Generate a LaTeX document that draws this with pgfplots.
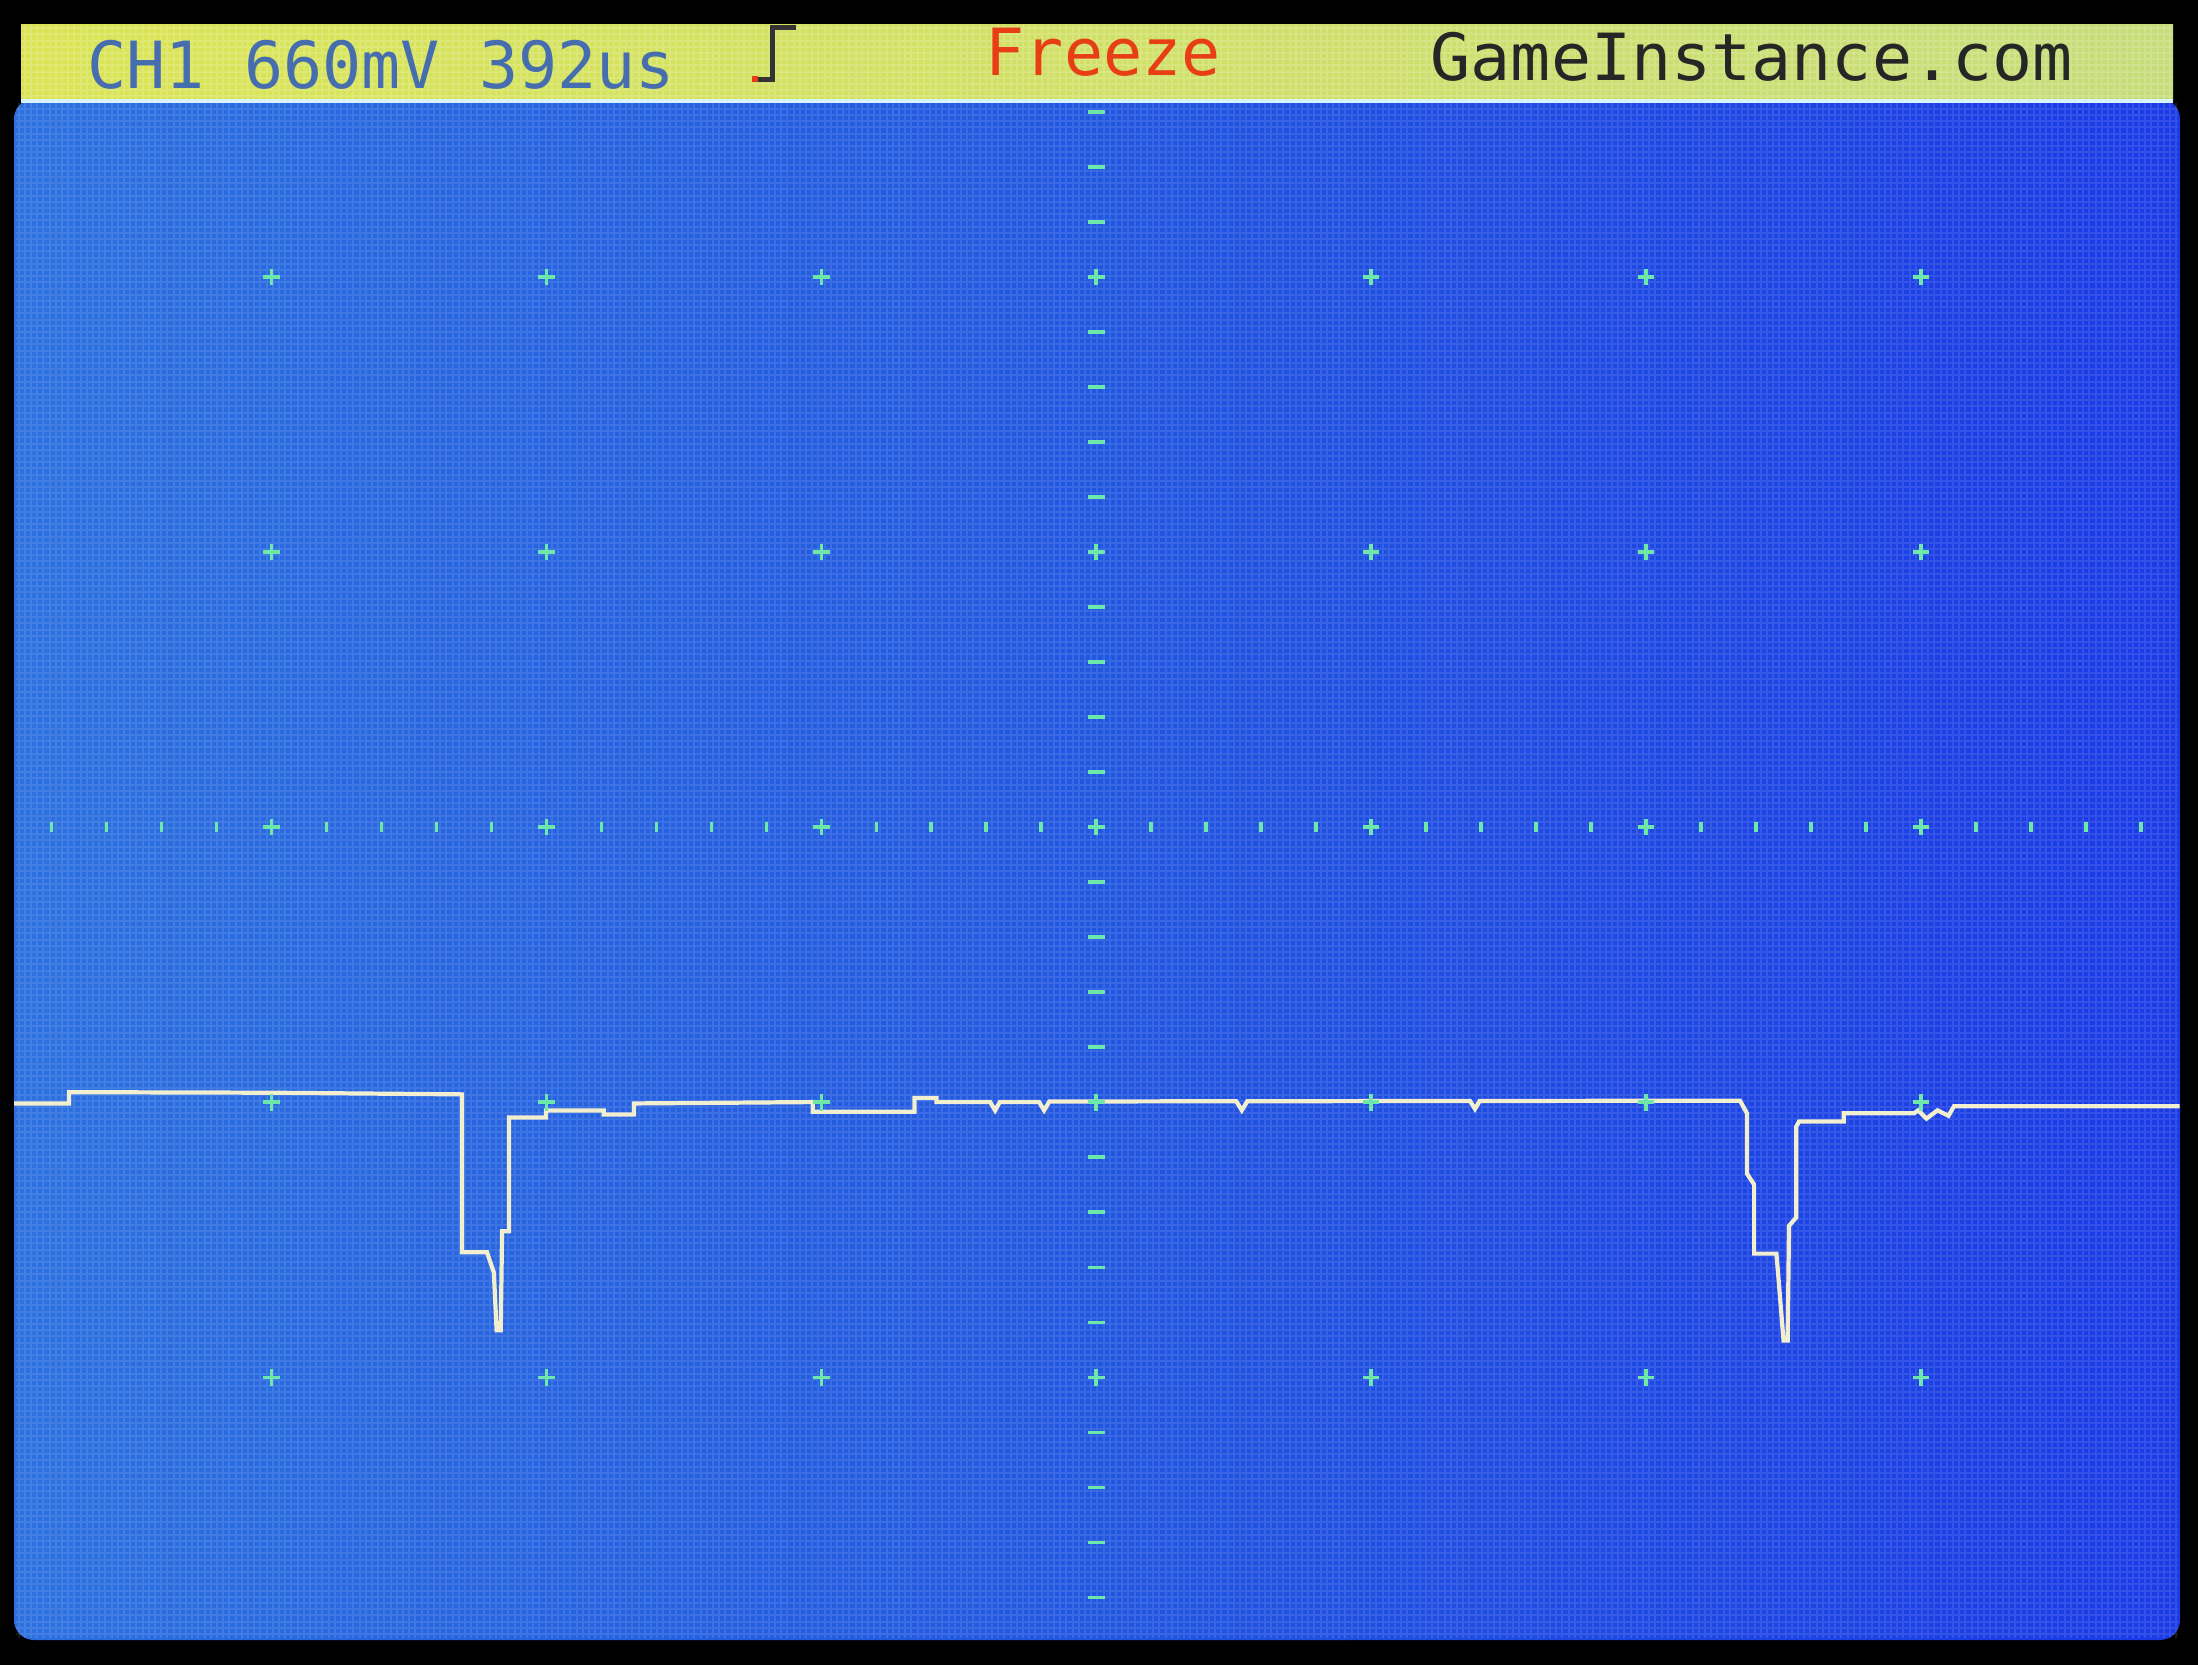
\documentclass[border=0pt]{standalone}
\usepackage{pgfplots}
\pgfplotsset{compat=1.18}
\usepackage{fontspec}
\newfontfamily\monofont{DejaVu Sans Mono}
\definecolor{scrL}{RGB}{44,112,224}
\definecolor{scrM}{RGB}{33,86,224}
\definecolor{scrR}{RGB}{26,58,230}
\definecolor{hdrL}{RGB}{218,228,82}
\definecolor{hdrR}{RGB}{198,220,120}
\definecolor{gridmk}{RGB}{110,232,170}
\definecolor{tracec}{RGB}{242,238,208}
\definecolor{chtxt}{RGB}{70,110,175}
\definecolor{frz}{RGB}{232,62,22}
\begin{document}
\begin{tikzpicture}
\fill[black] (0,0) rectangle (21.98,16.65);
% screen
\fill[left color=scrL, right color=scrR, middle color=scrM, rounded corners=0.2cm] (0.14,0.25) rectangle (21.80,15.66);
\draw[white, opacity=0.11, line width=0.02cm, step=0.062cm] (0.16,0.27) grid (21.78,15.62);
% header bar
\fill[left color=hdrL, right color=hdrR] (0.21,15.64) rectangle (21.73,16.40);
\draw[white, opacity=0.18, line width=0.02cm, step=0.062cm] (0.21,15.64) grid (21.73,16.40);
\draw[white!85!cyan, line width=0.04cm] (0.21,15.64) -- (21.73,15.64);
\node[anchor=base west, inner sep=0pt, text=chtxt, font=\monofont\fontsize{18.5}{20}\selectfont] at (0.87,15.76) {CH1 660mV 392us};
\node[anchor=base west, inner sep=0pt, text=frz, font=\monofont\fontsize{18.5}{20}\selectfont] at (9.85,15.89) {Freeze};
\node[anchor=base west, inner sep=0pt, text=black!85, font=\monofont\fontsize{18.5}{20}\selectfont, xscale=1.025] at (14.30,15.84) {GameInstance.com};
\draw[black!80, line width=0.05cm] (7.54,15.85) -- (7.72,15.85) -- (7.72,16.37) -- (7.96,16.37);
\fill[frz] (7.52,15.83) rectangle (7.58,15.89);
\begin{axis}[at={(0.14cm,0.25cm)}, anchor=south west, scale only axis,
  width=21.66cm, height=15.39cm,
  xmin=-3.935, xmax=3.942, ymin=-2.956, ymax=2.64,
  axis line style={draw=none}, xtick=\empty, ytick=\empty]
% major crosses
\addplot[only marks, mark=+, mark size=2.4pt, gridmk, mark options={line width=0.9pt}] coordinates {
(-3,2)(-2,2)(-1,2)(0,2)(1,2)(2,2)(3,2)
(-3,1)(-2,1)(-1,1)(0,1)(1,1)(2,1)(3,1)
(-3,0)(-2,0)(-1,0)(0,0)(1,0)(2,0)(3,0)
(-3,-1)(-2,-1)(-1,-1)(0,-1)(1,-1)(2,-1)(3,-1)
(-3,-2)(-2,-2)(-1,-2)(0,-2)(1,-2)(2,-2)(3,-2)
};
% centre column minor ticks
\addplot[only marks, mark=-, mark size=2.4pt, gridmk, mark options={line width=0.9pt}] coordinates {
(0,2.6)(0,2.4)(0,2.2)(0,1.8)(0,1.6)(0,1.4)(0,1.2)(0,0.8)(0,0.6)(0,0.4)(0,0.2)
(0,-0.2)(0,-0.4)(0,-0.6)(0,-0.8)(0,-1.2)(0,-1.4)(0,-1.6)(0,-1.8)(0,-2.2)(0,-2.4)(0,-2.6)(0,-2.8)
};
% centre row minor ticks
\addplot[only marks, mark=|, mark size=1.3pt, gridmk, mark options={line width=0.9pt}] coordinates {
(-3.8,0)(-3.6,0)(-3.4,0)(-3.2,0)(-2.8,0)(-2.6,0)(-2.4,0)(-2.2,0)(-1.8,0)(-1.6,0)(-1.4,0)(-1.2,0)(-0.8,0)(-0.6,0)(-0.4,0)(-0.2,0)
(0.2,0)(0.4,0)(0.6,0)(0.8,0)(1.2,0)(1.4,0)(1.6,0)(1.8,0)(2.2,0)(2.4,0)(2.6,0)(2.8,0)(3.2,0)(3.4,0)(3.6,0)(3.8,0)
};
% trace
\addplot[tracec, line width=1.2pt, line join=miter] coordinates {
(-3.94,-1.005)(-3.735,-1.005)(-3.735,-0.964)(-3.0,-0.966)(-2.306,-0.972)
(-2.306,-1.546)(-2.215,-1.546)(-2.19,-1.62)(-2.18,-1.83)(-2.165,-1.83)
(-2.16,-1.47)(-2.135,-1.47)(-2.135,-1.056)(-2.0,-1.056)(-2.0,-1.031)
(-1.79,-1.031)(-1.79,-1.045)(-1.68,-1.045)(-1.68,-1.005)
(-1.03,-1.0)(-1.03,-1.035)(-0.66,-1.035)(-0.66,-0.985)(-0.58,-0.985)(-0.58,-1.0)
(-0.385,-1.0)(-0.367,-1.03)(-0.35,-1.0)
(-0.207,-1.0)(-0.189,-1.03)(-0.17,-0.998)
(0.51,-0.997)(0.53,-1.03)(0.55,-0.997)
(1.36,-0.996)(1.378,-1.025)(1.395,-0.996)
(2.342,-0.995)(2.367,-1.041)(2.367,-1.26)(2.393,-1.30)(2.393,-1.551)
(2.474,-1.551)(2.48,-1.62)(2.50,-1.867)(2.515,-1.867)(2.52,-1.45)
(2.546,-1.42)(2.546,-1.09)(2.556,-1.071)(2.719,-1.071)(2.719,-1.041)
(2.974,-1.041)(2.99,-1.03)(3.02,-1.06)(3.06,-1.03)(3.10,-1.05)(3.12,-1.015)
(3.94,-1.015)
};
\end{axis}
\end{tikzpicture}
\end{document}
